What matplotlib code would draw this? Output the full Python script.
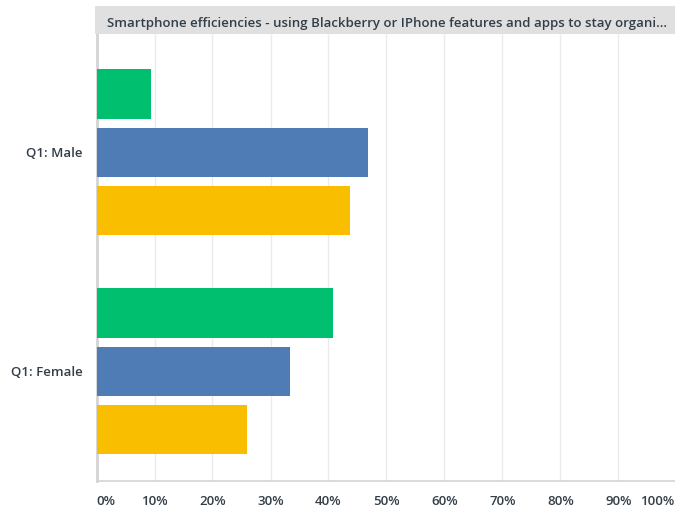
import matplotlib.pyplot as plt
from matplotlib.patches import Rectangle
from matplotlib.ticker import FixedLocator

plt.rcParams['font.family'] = ['Open Sans', 'DejaVu Sans']

title = "Smartphone efficiencies - using Blackberry or IPhone features and apps to stay organi..."
groups = ["Q1: Male", "Q1: Female"]
series_colors = ["#00BF6F", "#507CB6", "#F9BE00"]
# percentages per group, one list per series (top to bottom within each group)
series_a = [9.38, 40.74]
series_b = [46.88, 33.33]
series_c = [43.75, 25.93]
x_ticks = [0, 10, 20, 30, 40, 50, 60, 70, 80, 90, 100]
x_tick_labels = [f"{t}%" for t in x_ticks]

text_color = "#333E48"
W, H = 675, 512
fig = plt.figure(figsize=(W / 100, H / 100), dpi=100)

ax = fig.add_axes([96.5 / W, (H - 481) / H, 580 / W, 447 / H])

bar_h = 0.224
offset = 0.267
for i, (vals, col) in enumerate(zip([series_a, series_b, series_c], series_colors)):
    ys = [g + (i - 1) * offset for g in range(len(groups))]
    ax.barh(ys, vals, height=bar_h, color=col, zorder=3)

ax.set_xlim(0, 100)
ax.set_ylim(1.5, -0.541)
ax.xaxis.set_major_locator(FixedLocator(x_ticks))
ax.set_xticklabels([])
ax.grid(axis="x", color="#EBEBEB", linewidth=1.0, zorder=0)
ax.set_yticks(range(len(groups)))
ax.set_yticklabels(groups, fontsize=9.5, fontweight="semibold", color=text_color)
ax.tick_params(axis="y", length=0, pad=10)
ax.tick_params(axis="x", length=0)

for s in ["top", "right"]:
    ax.spines[s].set_visible(False)
ax.spines["left"].set_color("#D4D4D4")
ax.spines["left"].set_linewidth(2.0)
ax.spines["bottom"].set_color("#D4D4D4")
ax.spines["bottom"].set_linewidth(1.2)

# x tick labels: first left-aligned, last right-aligned
label_y = (H - 501.5) / H
for t, lab in zip(x_ticks, x_tick_labels):
    xf = (96.5 + t * 5.8) / W
    ha = "center"
    if t == 0:
        ha = "left"
        xf = 96 / W
    elif t == 100:
        ha = "right"
        xf = 674 / W
    fig.text(xf, label_y, lab, ha=ha, va="center", fontsize=9.5,
             fontweight="semibold", color=text_color)

# header band with the question title
fig.patches.append(Rectangle((95 / W, (H - 34) / H), (W - 95) / W, 28 / H,
                             transform=fig.transFigure, facecolor="#E0E0E0",
                             edgecolor="none", zorder=0))
fig.text(107 / W, (H - 23) / H, title, ha="left", va="center", fontsize=9.5,
         fontweight="semibold", color=text_color)

fig.savefig("out.png", dpi=100)
